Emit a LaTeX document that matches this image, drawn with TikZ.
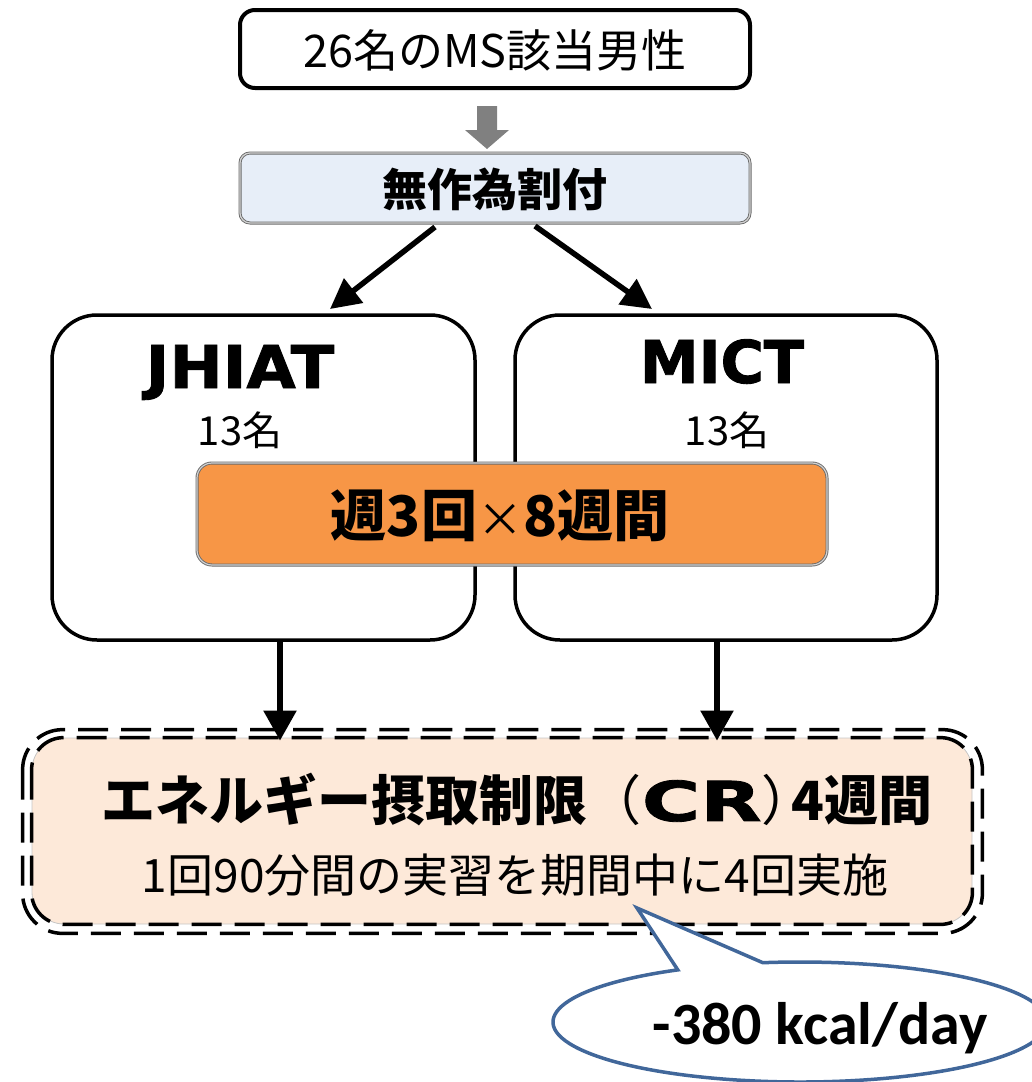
\documentclass[tikz,border=0pt]{standalone}
\usepackage{fontspec}
\setmainfont{Noto Sans CJK JP}
\newfontfamily\heavyfont{DejaVu Sans}[BoldFeatures={FakeBold=1.5}]
\newfontfamily\calibfont{Carlito}
\usetikzlibrary{arrows.meta,shapes.callouts,calc}
\definecolor{randfill}{HTML}{E7EEF8}
\definecolor{orangefill}{HTML}{F79646}
\definecolor{crfill}{HTML}{FDE9D9}
\definecolor{callblue}{HTML}{41679A}
\definecolor{arrowgray}{HTML}{808080}
\definecolor{edgegray}{HTML}{6A6A6A}
\begin{document}
\begin{tikzpicture}[x=1pt,y=-1pt,
  topbox/.style={rectangle, draw=black, line width=4pt, rounded corners=15pt, fill=white, inner sep=0pt},
  dblbox/.style={rectangle, draw=edgegray, double=gray!35, double distance=1.2pt, line width=0.9pt, inner sep=0pt},
  groupbox/.style={rectangle, draw=black, line width=3.5pt, rounded corners=45pt, fill=white, inner sep=0pt},
  arr/.style={line width=5.5pt, -{Triangle[length=30pt,width=30pt]}},
  varr/.style={line width=5.5pt, -{Triangle[length=30pt,width=32pt]}},
  crdash/.style={line width=3.5pt, dash pattern=on 30pt off 13pt},
  jp/.style={font=\fontsize{#1}{#1}\selectfont, inner sep=0pt},
  jpb/.style={font=\bfseries\fontsize{#1}{#1}\selectfont, inner sep=0pt},
  heavy/.style={font=\heavyfont\bfseries\fontsize{#1}{#1}\selectfont, inner sep=0pt}
]
\useasboundingbox (0,0) rectangle (1032,1082);
\clip (0,0) rectangle (1032,1082);

% top box
\node[topbox, minimum width=510, minimum height=78] (top) at (495,49) {};
\node[jp=45] (toptext) at (495,50) {26名のMS該当男性};

% gray block arrow
\fill[arrowgray] (477,106) -- (497,106) -- (497,130) -- (509,130) -- (487,149) -- (465,130) -- (477,130) -- cycle;

% randomisation box
\node[dblbox, fill=randfill, rounded corners=10pt, minimum width=510, minimum height=70] (rand) at (495,188) {};
\node[jpb=45] (randtext) at (495,189) {無作為割付};

% group boxes
\node[groupbox, minimum width=423, minimum height=325] (jbox) at (263.5,477.5) {};
\node[groupbox, minimum width=422, minimum height=325] (mbox) at (726,477.5) {};
\node[heavy=59, anchor=base] (jhiat) at (240,388) {\addfontfeature{FakeStretch=1.08}JHIAT};
\node[jp=40] (jn) at (240,430) {13名};
\node[heavy=59, anchor=base] (mict) at (722,383) {MICT};
\node[jp=40] (mn) at (727,430) {13名};

% orange box
\node[dblbox, fill=orangefill, rounded corners=15pt, minimum width=630, minimum height=102] (orange) at (512,514) {};
\node[jpb=56] (otext) at (500,516) {週3回{\mdseries\fontsize{46}{46}\selectfont ×}8週間};

% diagonal arrows
\coordinate (r1) at (435,227);
\coordinate (r2) at (535,226);
\coordinate (g1) at (330,309);
\coordinate (g2) at (652,309);
\draw[arr] (r1) -- (g1);
\draw[arr] (r2) -- (g2);

% CR box
\node[rectangle, fill=crfill, draw=gray!45, line width=0.8pt, rounded corners=32pt, minimum width=940, minimum height=186, inner sep=0pt] (cr) at (502,831) {};
\draw[crdash, rounded corners=32pt] (cr.north west) rectangle (cr.south east);
\draw[crdash, rounded corners=40pt] ($(cr.north west)+(-9,-8)$) rectangle ($(cr.south east)+(10,9)$);
\node[jpb=54] (crtext) at (517,800) {エネルギー摂取制限{\mdseries（}{\heavyfont\bfseries\fontsize{55}{55}\selectfont\addfontfeature{FakeStretch=1.45}CR}{\mdseries ）}\kern-0.45em 4週間};
\node[jp=46] (crsub) at (515,875) {1回90分間の実習を期間中に4回実施};

% vertical arrows
\coordinate (ja) at (280,641);
\coordinate (ma) at (717,641);
\draw[varr] (ja) -- ($(ja |- cr.north)+(0,3)$);
\draw[varr] (ma) -- ($(ma |- cr.north)+(0,3)$);

% callout
\node[ellipse callout, draw=callblue, line width=3.5pt, fill=white, minimum width=494, minimum height=120, inner sep=0pt,
      callout absolute pointer={(637,908)}, callout pointer arc=21] (call) at (800,1022) {};
\node[font=\calibfont\bfseries\fontsize{60}{60}\selectfont, inner sep=0pt] (kcal) at (820,1028) {-380 kcal/day};
\end{tikzpicture}
\end{document}
